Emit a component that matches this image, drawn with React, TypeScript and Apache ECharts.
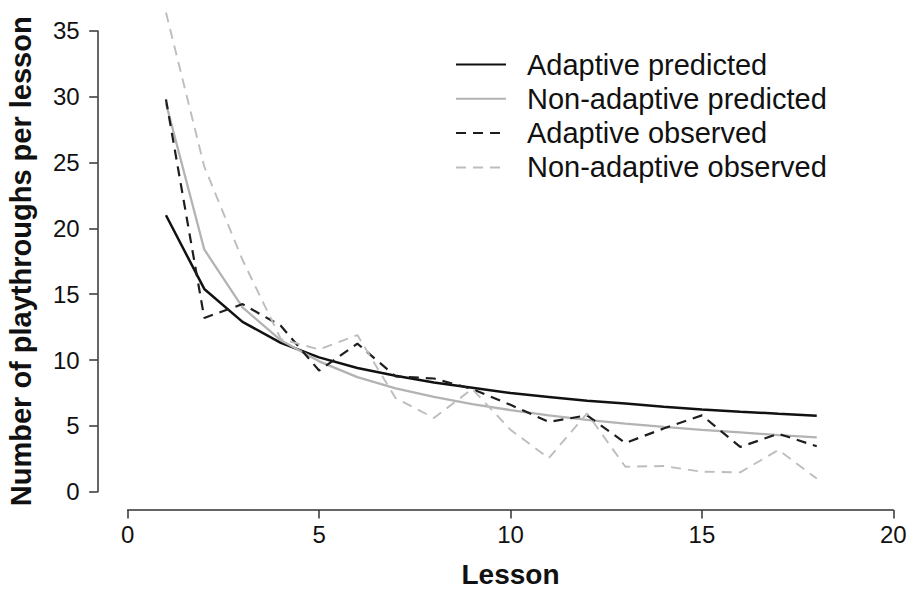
import React, { useEffect, useRef } from "react";
import * as echarts from "echarts";

const lessons = [1, 2, 3, 4, 5, 6, 7, 8, 9, 10, 11, 12, 13, 14, 15, 16, 17, 18];
const adaptivePredicted = [21.0, 15.4, 12.9, 11.3, 10.2, 9.4, 8.8, 8.3, 7.9, 7.5, 7.2, 6.9, 6.7, 6.45, 6.25, 6.08, 5.92, 5.77];
const nonAdaptivePredicted = [29.5, 18.4, 14.0, 11.5, 9.9, 8.7, 7.85, 7.2, 6.65, 6.2, 5.8, 5.45, 5.17, 4.92, 4.7, 4.5, 4.3, 4.13];
const adaptiveObserved = [29.8, 13.2, 14.25, 12.6, 9.2, 11.25, 8.75, 8.6, 7.8, 6.6, 5.3, 5.8, 3.7, 4.8, 5.8, 3.4, 4.4, 3.45];
const nonAdaptiveObserved = [36.4, 24.7, 17.6, 11.6, 10.8, 11.9, 7.1, 5.6, 7.8, 4.7, 2.55, 5.95, 1.9, 1.95, 1.52, 1.47, 3.17, 1.0];
const seriesNames = ["Adaptive predicted", "Non-adaptive predicted", "Adaptive observed", "Non-adaptive observed"];

const FONT = "'Liberation Sans', Arial, Helvetica, sans-serif";

function pairs(vals: number[]) {
  return lessons.map((l, i) => [l, vals[i]]);
}

export default function App() {
  const ref = useRef<HTMLDivElement>(null);
  useEffect(() => {
    const chart = echarts.init(ref.current!, null, { renderer: "svg" });
    const mk = (name: string, vals: number[], color: string, width: number, dashed: boolean) => ({
      name,
      type: "line",
      data: pairs(vals),
      symbol: "none",
      showSymbol: false,
      clip: false,
      smooth: false,
      lineStyle: { color, width, type: dashed ? [10, 7] : "solid" },
      itemStyle: { color },
      emphasis: { disabled: true },
    });
    chart.setOption({
      animation: false,
      backgroundColor: "#ffffff",
      textStyle: { fontFamily: FONT },
      grid: {
        left: 127.7,
        right: 15.7,
        top: 30.9,
        bottom: 98.3,
        containLabel: false,
        outerBoundsMode: "none",
      },
      legend: {
        orient: "vertical",
        left: 455,
        top: 50,
        padding: 0,
        itemGap: 5.3,
        itemWidth: 50,
        itemHeight: 14,
        data: seriesNames,
        itemStyle: { opacity: 0 },
        textStyle: { fontSize: 29, color: "#111", fontFamily: FONT, padding: [0, 0, 0, 16] },
      },
      xAxis: {
        type: "value",
        min: 0,
        max: 20,
        interval: 5,
        offset: 18.3,
        name: "Lesson",
        nameLocation: "middle",
        nameGap: 50,
        nameTextStyle: { fontSize: 28, fontWeight: "bold", color: "#111", fontFamily: FONT },
        axisLine: { show: true, onZero: false, lineStyle: { color: "#333", width: 1.5 } },
        axisTick: { show: true, length: 8.5, lineStyle: { color: "#333", width: 1.5 } },
        axisLabel: { fontSize: 24, color: "#111", margin: 12, fontFamily: FONT },
        splitLine: { show: false },
      },
      yAxis: {
        type: "value",
        min: 0,
        max: 35,
        interval: 5,
        offset: 30,
        name: "Number of playthroughs per lesson",
        nameLocation: "middle",
        nameGap: 62,
        nameTextStyle: { fontSize: 29, fontWeight: "bold", color: "#111", fontFamily: FONT },
        axisLine: { show: true, onZero: false, lineStyle: { color: "#333", width: 1.5 } },
        axisTick: { show: true, length: 8.5, lineStyle: { color: "#333", width: 1.5 } },
        axisLabel: { fontSize: 24, color: "#111", margin: 18, fontFamily: FONT },
        splitLine: { show: false },
      },
      series: [
        mk(seriesNames[0], adaptivePredicted, "#111111", 2.5, false),
        mk(seriesNames[1], nonAdaptivePredicted, "#b3b3b3", 2.3, false),
        mk(seriesNames[2], adaptiveObserved, "#1e1e1e", 2.2, true),
        mk(seriesNames[3], nonAdaptiveObserved, "#bdbdbd", 1.9, true),
      ],
    });
    return () => chart.dispose();
  }, []);
  return (
    <div
      ref={ref}
      style={{ position: "absolute", left: 0, top: 0, width: 909, height: 590, background: "#fff" }}
    />
  );
}
